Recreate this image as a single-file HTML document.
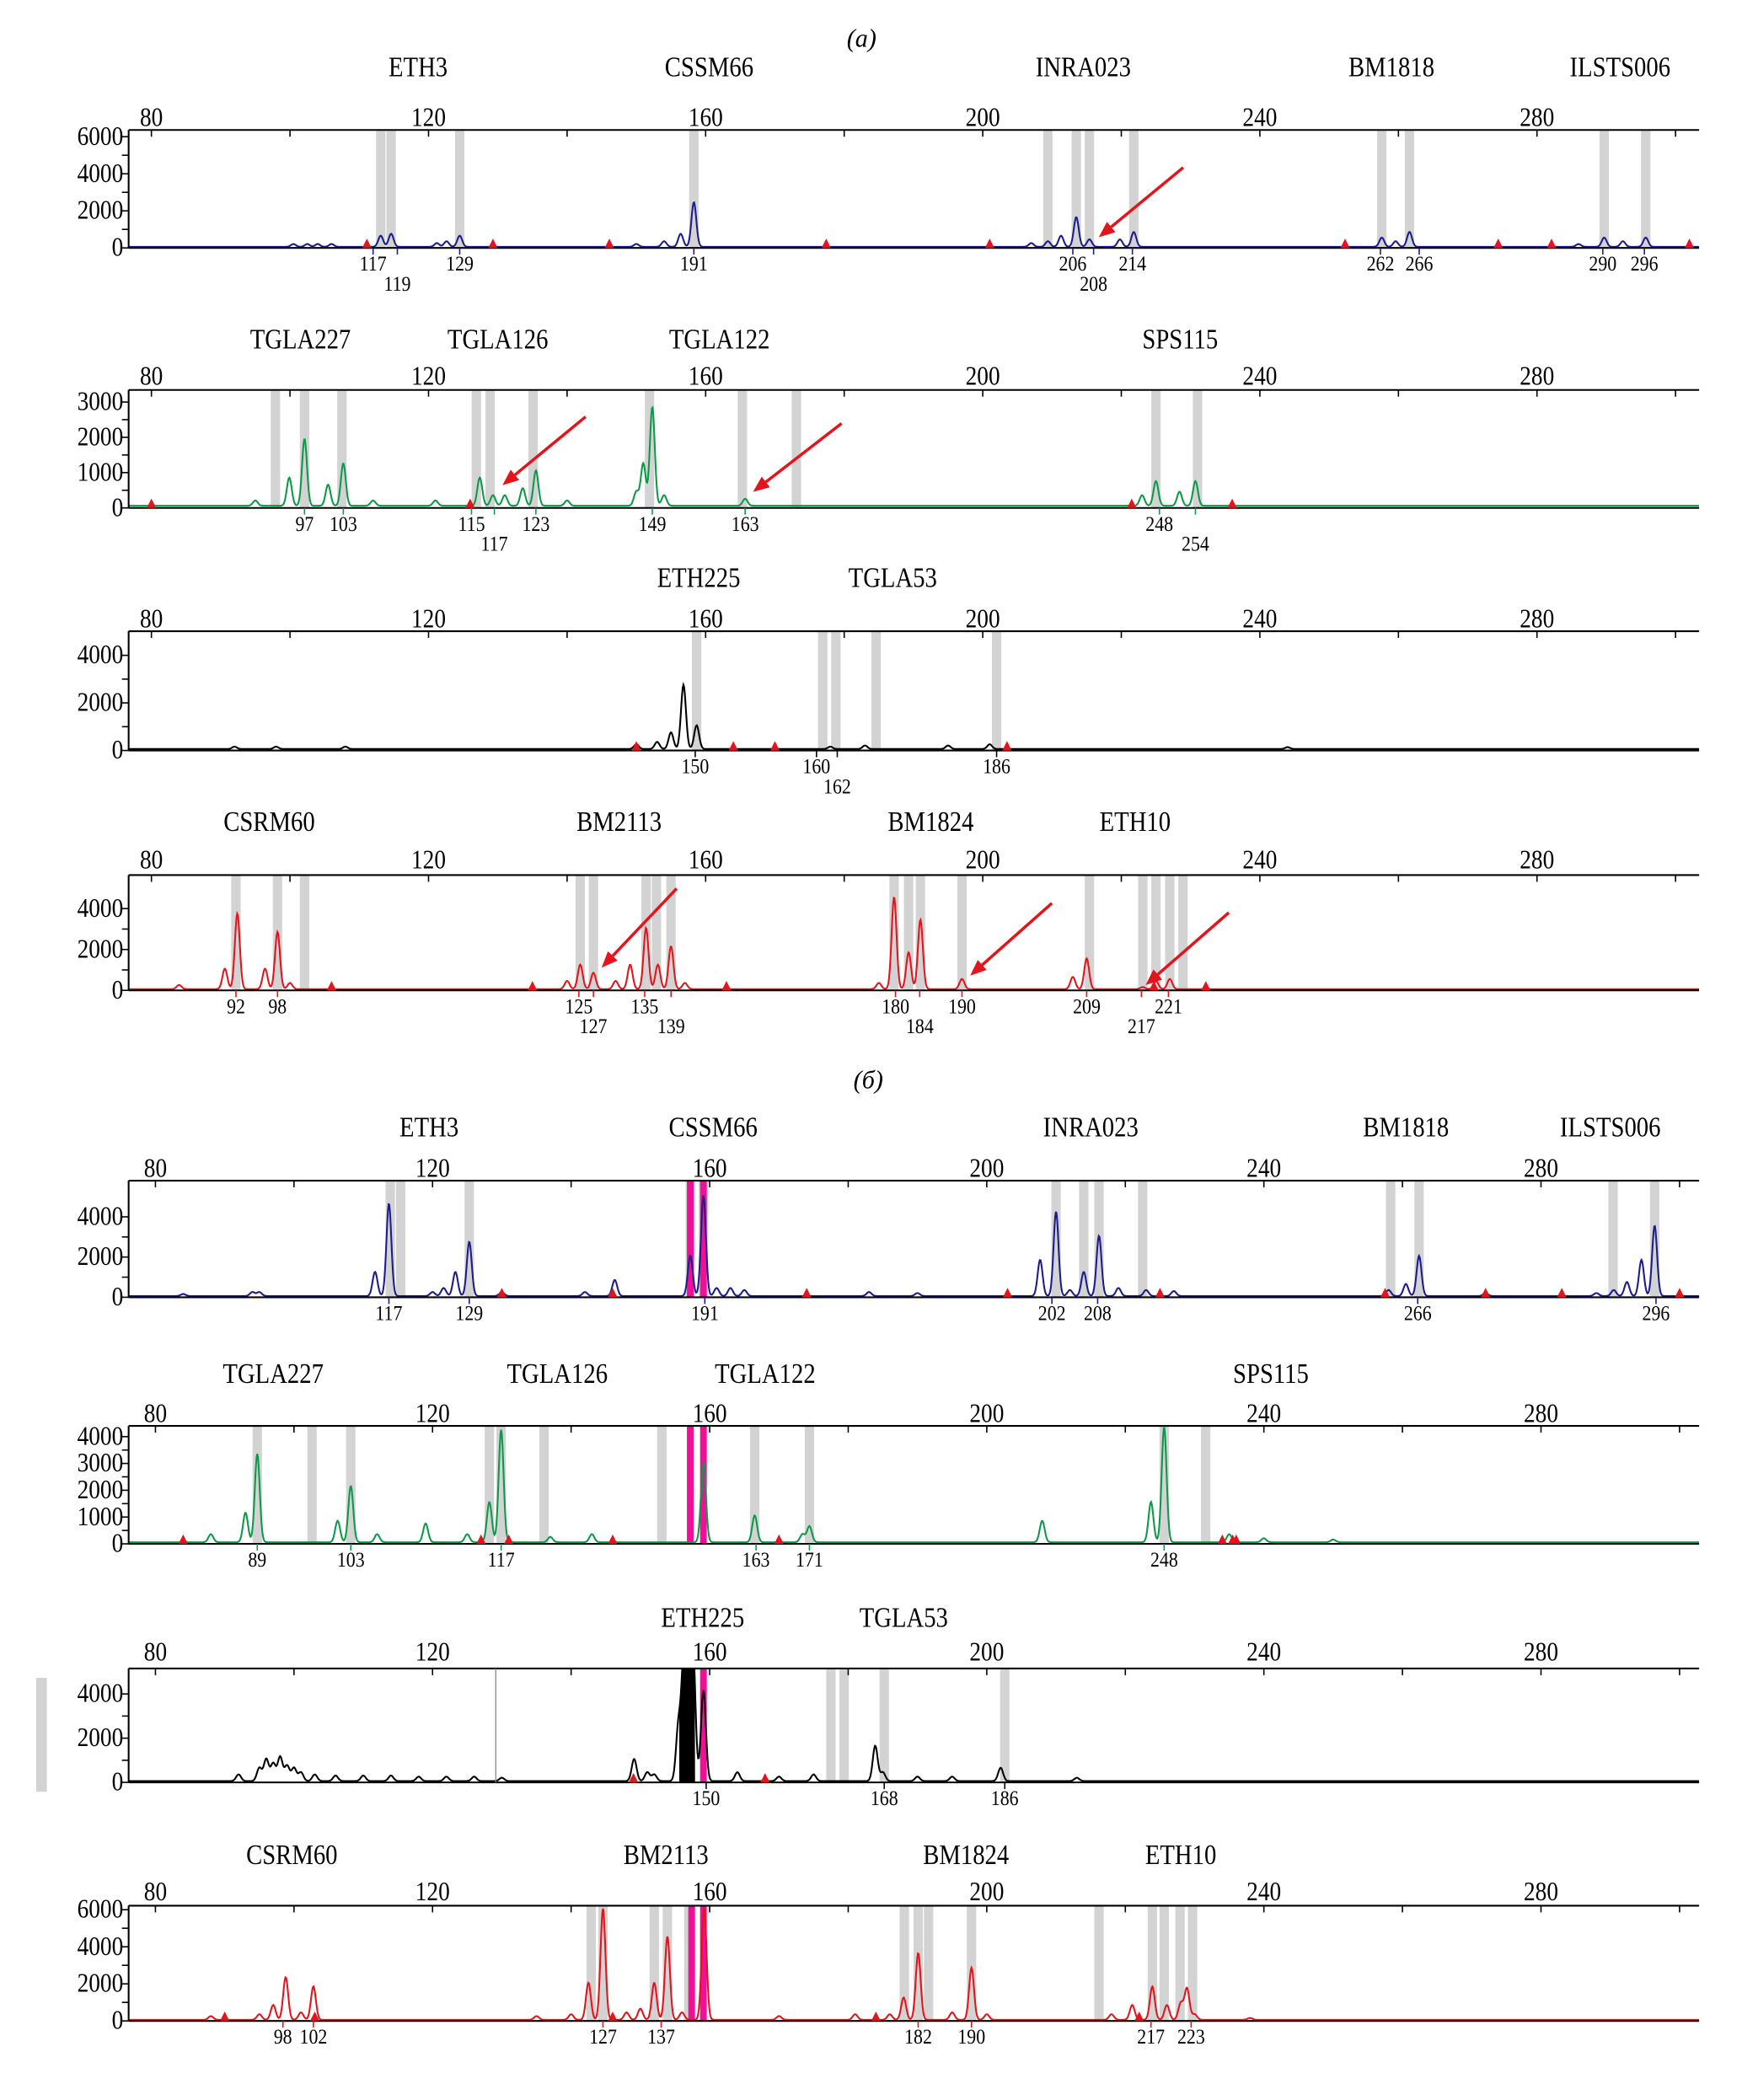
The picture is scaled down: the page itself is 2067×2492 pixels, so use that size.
<!DOCTYPE html>
<html><head><meta charset="utf-8"><style>
html,body{margin:0;padding:0;background:#fff}
svg{display:block}
text{font-family:"Liberation Serif",serif;fill:#000}
</style></head><body>
<svg id="chart" xmlns="http://www.w3.org/2000/svg" width="2067" height="2492" viewBox="0 0 1300 1567" preserveAspectRatio="none">
<text x="643" y="35" font-size="19" font-style="italic" text-anchor="middle">(a)</text>
<text x="648" y="812" font-size="19" font-style="italic" text-anchor="middle">(б)</text>
<rect x="27" y="1252" width="8" height="85" fill="#d3d3d3"/>
</svg>
<script>
// ---- data (bp positions, RFU heights) ----
const a1Peaks=[[100.5,150],[102.5,150],[104,150],[106,150],[113.1,600],[114.6,700],[121.2,200],[122.6,300],[124.5,600],[150,150],[154,300],[156.4,700],[158.3,2400],[207,200],[209.4,300],[211.3,600],[213.5,1600],[215.4,400],[219.8,400],[221.8,800],[257.6,500],[259.6,300],[261.6,800],[286,150],[289.7,500],[292.4,300],[295.7,500]];
const a1Bins=[113.1,114.6,124.5,158.3,209.4,213.5,215.4,221.8,257.6,261.6,289.7,295.7];
const a1Labels=[[112,'117',0],[115.5,'119',1],[124.5,'129',0],[158.3,'191',0],[213,'206',0],[216,'208',1],[221.6,'214',0],[257.4,'262',0],[263,'266',0],[289.5,'290',0],[295.5,'296',0]];
const a1Marks=[111.1,129.3,146.1,177.4,201,252.3,274.4,282.1,302];
const a2Peaks=[[95,150],[99.9,800],[102.1,1900],[105.5,600],[107.7,1200],[112,150],[121,150],[127.4,800],[129.3,300],[131,300],[133.6,500],[135.5,1000],[140,150],[150,400],[151,1200],[152.3,2800],[154,300],[165.7,200],[223,300],[225,700],[228.4,400],[230.7,700]];
const a2Bins=[97.9,102.1,107.5,126.9,128.9,135.1,151.9,165.3,173.1,225,231];
const a2Labels=[[102.1,'97',0],[107.7,'103',0],[126.2,'115',0],[129.5,'117',1],[135.5,'123',0],[152.3,'149',0],[165.7,'163',0],[225.5,'248',0],[230.7,'254',1]];
const a2Marks=[80,126,221.5,236];
const a3Peaks=[[92,100],[98,100],[108,100],[150,200],[153,300],[155,700],[156.8,2700],[158.7,1000],[178,100],[183,150],[195,150],[201,200],[244,80]];
const a3Bins=[158.7,176.9,178.8,184.6,202];
const a3Labels=[[158.5,'150',0],[176,'160',0],[179,'162',1],[202,'186',0]];
const a3Marks=[150,164,170,203.5];
const a4Peaks=[[84,200],[90.6,1000],[92.4,3700],[96.4,1000],[98.2,2800],[100,300],[140,400],[141.9,1200],[143.8,800],[147,400],[149.1,1200],[151.4,3000],[153.1,1200],[155,2100],[157,300],[185,300],[187.2,4500],[189.3,1800],[191,3400],[197,500],[213,600],[215,1500],[223.1,100],[225,400],[227,500]];
const a4Bins=[92.2,98.2,102.1,141.9,143.8,151.4,152.9,155,187.2,189.3,191,197,215.4,223.1,225,227,228.9];
const a4Labels=[[92.2,'92',0],[98.2,'98',0],[141.7,'125',0],[143.8,'127',1],[151.2,'135',0],[155,'139',1],[187.4,'180',0],[190.9,'184',1],[197,'190',0],[215,'209',0],[222.9,'217',1],[226.8,'221',0]];
const a4Marks=[106,135,163,224.7,232.2];
const b1Peaks=[[84,100],[94,200],[95,200],[111.7,1200],[113.7,4600],[120,200],[121.6,400],[123.3,1200],[125.3,2700],[130,200],[142,200],[146.3,800],[157.2,2000],[159.1,5000],[161,400],[163,400],[165,300],[183,200],[190,150],[207.7,1800],[210,4200],[212,300],[214,1200],[216.2,3000],[219,400],[223,300],[227,250],[258,300],[260.5,600],[262.4,2000],[272,150],[288,150],[290.5,300],[292.4,700],[294.5,1800],[296.4,3500]];
const b1Bins=[113.9,115.4,125.3,157.2,159.1,210,214,216.2,222.5,258.3,262.4,290.4,296.4];
const b1Labels=[[113.7,'117',0],[125.3,'129',0],[159.3,'191',0],[209.4,'202',0],[216,'208',0],[262.2,'266',0],[296.6,'296',0]];
const b1Marks=[130,146,174,203,225,257.5,272,283,300];
const b2Peaks=[[88,300],[93,1100],[94.7,3300],[106.3,800],[108.2,2100],[112,300],[119,700],[125,300],[128.2,1500],[129.9,4200],[137,200],[143,300],[159.1,3000],[166.5,1000],[173.4,300],[174.4,600],[208,800],[223.7,1500],[225.6,4300],[235,300],[240,150],[250,100]];
const b2Bins=[94.7,102.6,108.2,128.2,129.9,136.1,153.1,166.5,174.4,225.6,231.6];
const b2Labels=[[94.7,'89',0],[108.2,'103',0],[129.9,'117',0],[166.7,'163',0],[174.4,'171',0],[225.6,'248',0]];
const b2Marks=[84,127,131,146,170,234,235.5,236];
const b3Peaks=[[92,300],[95,600],[96,1000],[97,800],[98,1100],[99,700],[100,600],[101,400],[103,300],[106,250],[110,250],[114,250],[118,200],[122,200],[126,200],[130,150],[149.1,1000],[151,400],[152,300],[155.5,2500],[156.3,5500],[157,5500],[157.6,5500],[159.1,4100],[164,400],[170,200],[175,300],[183.9,1600],[185,400],[190,200],[195,200],[202,600],[213,150]];
const b3Bins=[177.5,179.4,185.2,202.6];
const b3Labels=[[159.5,'150',0],[185.2,'168',0],[202.6,'186',0]];
const b3Marks=[149,168];
const b4Peaks=[[88,200],[95,300],[97,800],[98.8,2300],[101,400],[102.8,1800],[135,200],[140,300],[142.5,2000],[144.6,6000],[148,400],[150,600],[152,2000],[153.9,4500],[156,400],[159.2,6000],[170,200],[181,300],[186,300],[188,1200],[190.1,3600],[195,400],[197.8,2800],[200,300],[218,300],[221,800],[223.9,1800],[226,800],[228,900],[228.9,1700],[230,300],[238,100]];
const b4Bins=[142.9,144.6,152,153.9,157,188.1,190.1,191.6,197.8,216.2,223.9,225.6,227.9,229.7];
const b4Labels=[[98.4,'98',0],[102.8,'102',0],[144.6,'127',0],[153,'137',0],[190.1,'182',0],[197.8,'190',0],[223.7,'217',0],[229.5,'223',0]];
const b4Marks=[90,103,146,184,222];
const axisTicks=[80,120,160,200,240,280];
const aNames1=[[118.5,'ETH3'],[160.5,'CSSM66'],[214.5,'INRA023'],[259,'BM1818'],[292,'ILSTS006']];
const aNames2=[[101.5,'TGLA227'],[130,'TGLA126'],[162,'TGLA122'],[228.5,'SPS115']];
const aNames3=[[159,'ETH225'],[187,'TGLA53']];
const aNames4=[[97,'CSRM60'],[147.5,'BM2113'],[192.5,'BM1824'],[222,'ETH10']];
const bNames1=[[119.5,'ETH3'],[160.5,'CSSM66'],[215,'INRA023'],[260.5,'BM1818'],[290,'ILSTS006']];
const bNames2=[[97,'TGLA227'],[138,'TGLA126'],[168,'TGLA122'],[241,'SPS115']];
const bNames3=[[159,'ETH225'],[188,'TGLA53']];
const bNames4=[[99.7,'CSRM60'],[153.7,'BM2113'],[197,'BM1824'],[228,'ETH10']];

const NS='http://www.w3.org/2000/svg';
const svg=document.getElementById('chart');
const X0=96,X1=1268;
function xs(v,sh){return 113+(v-80)*5.17+(sh||0);}
function mk(tag,attrs,parent){const e=document.createElementNS(NS,tag);for(const k in attrs)e.setAttribute(k,attrs[k]);(parent||svg).appendChild(e);return e;}
function txt(x,y,s,size,anchor,parent){const e=mk('text',{x:0,y:0,'font-size':size,'text-anchor':anchor,transform:`translate(${x.toFixed(1)},${y}) scale(0.86,1)`},parent);e.textContent=s;return e;}

const panels=[
 {id:'a1',top:97,base:185,ymax:6000,yAt:102,ticks:[0,2000,4000,6000],minor:1000,color:'#1c1c8c',peaks:a1Peaks,bins:a1Bins,labels:a1Labels,marks:a1Marks,names:aNames1,nameY:57,tickY:94,sh:0,pink:[]},
 {id:'a2',top:291,base:379,ymax:3000,yAt:300,ticks:[0,1000,2000,3000],minor:500,color:'#0c9a48',peaks:a2Peaks,bins:a2Bins,labels:a2Labels,marks:a2Marks,names:aNames2,nameY:260,tickY:287,sh:0,pink:[]},
 {id:'a3',top:471,base:560,ymax:4000,yAt:489,ticks:[0,2000,4000],minor:1000,color:'#000',peaks:a3Peaks,bins:a3Bins,labels:a3Labels,marks:a3Marks,names:aNames3,nameY:438,tickY:468,sh:0,pink:[]},
 {id:'a4',top:653,base:739,ymax:4000,yAt:678,ticks:[0,2000,4000],minor:1000,color:'#e3141c',peaks:a4Peaks,bins:a4Bins,labels:a4Labels,marks:a4Marks,names:aNames4,nameY:620,tickY:648,sh:0,pink:[]},
 {id:'b1',top:881,base:968,ymax:4000,yAt:908,ticks:[0,2000,4000],minor:1000,color:'#1c1c8c',peaks:b1Peaks,bins:b1Bins,labels:b1Labels,marks:b1Marks,names:bNames1,nameY:848,tickY:878,sh:3,pink:[157.2,159.1]},
 {id:'b2',top:1064,base:1152,ymax:4000,yAt:1072,ticks:[0,1000,2000,3000,4000],minor:500,color:'#0c9a48',peaks:b2Peaks,bins:b2Bins,labels:b2Labels,marks:b2Marks,names:bNames2,nameY:1032,tickY:1061,sh:3,pink:[157.2,159.1]},
 {id:'b3',top:1245,base:1330,ymax:4000,yAt:1264,ticks:[0,2000,4000],minor:1000,color:'#000',peaks:b3Peaks,bins:b3Bins,labels:b3Labels,marks:b3Marks,names:bNames3,nameY:1214,tickY:1239,sh:3,pink:[159.1],fillFrom:155.6,fillTo:157.9},
 {id:'b4',top:1422,base:1508,ymax:6000,yAt:1425,ticks:[0,2000,4000,6000],minor:1000,color:'#e3141c',peaks:b4Peaks,bins:b4Bins,labels:b4Labels,marks:b4Marks,names:bNames4,nameY:1391,tickY:1418,sh:3,pink:[157.4,159.1]}
];

panels.forEach(p=>{
 const g=mk('g',{});
 
 
 const ys=v=>p.base-v*(p.base-p.yAt)/p.ymax;
 const cid='clip-'+p.id;
 const cp=mk('clipPath',{id:cid},g);mk('rect',{x:X0,y:p.top,width:X1-X0,height:p.base-p.top+2},cp);
 p.bins.forEach(b=>{const r=mk('rect',{x:xs(b,p.sh)-3.5,y:p.top,width:7,height:p.base-p.top,fill:'#d3d3d3'},g);
  
  });
 p.pink.forEach(b=>{const r=mk('rect',{x:xs(b,p.sh)-2.5,y:p.top,width:5,height:p.base-p.top,fill:'#ee1197'},g);
  
  });
 let d='',fd='';
 const hAt=v=>{let h=60;p.peaks.forEach(([c,a])=>{const z=(v-c)/0.5;h+=a*Math.exp(-z*z);});return h;};
 for(let px=X0;px<=X1;px+=0.5){
  const v=80+(px-p.sh-113)/5.17;const h=hAt(v);
  d+=(d?'L':'M')+px.toFixed(1)+','+ys(h).toFixed(1);
 }
 if(p.fillFrom){
  const xa=xs(p.fillFrom,p.sh),xb=xs(p.fillTo,p.sh);
  fd='M'+xa.toFixed(1)+','+p.base;
  for(let px=xa;px<=xb;px+=0.5){const v=80+(px-p.sh-113)/5.17;fd+='L'+px.toFixed(1)+','+ys(hAt(v)).toFixed(1);}
  fd+='L'+xb.toFixed(1)+','+p.base+'Z';
  const f=mk('path',{d:fd,fill:'#000','clip-path':'url(#'+cid+')'},g);
  
  
 }
 const tr=mk('path',{d:d,fill:'none',stroke:p.color,'stroke-width':1.3,'clip-path':'url(#'+cid+')'},g);
 
 
 mk('line',{x1:X0,y1:p.top,x2:X1,y2:p.top,stroke:'#000','stroke-width':1.3},g);
 mk('line',{x1:X0,y1:p.base,x2:X1,y2:p.base,stroke:'#000','stroke-width':1.3},g);
 mk('line',{x1:X0,y1:p.top,x2:X0,y2:p.base,stroke:'#000','stroke-width':1.3},g);
 for(let t=80;t<=300;t+=20){mk('line',{x1:xs(t,p.sh),y1:p.top,x2:xs(t,p.sh),y2:p.top+5,stroke:'#000','stroke-width':1},g);}
 axisTicks.forEach(t=>{const e=txt(xs(t,p.sh),p.tickY,String(t),20,'middle',g);
  
  });
 for(let t=0;t<=p.ymax;t+=p.minor){const y=ys(t);if(y<p.top-1)continue;mk('line',{x1:X0-5,y1:y,x2:X0,y2:y,stroke:'#000','stroke-width':1},g);}
 p.ticks.forEach(t=>{const e=txt(X0-4,(ys(t)+6).toFixed(1),String(t),20,'end',g);
  
  });
 p.names.forEach(([v,s])=>{const e=txt(xs(v,p.sh),p.nameY,s,21,'middle',g);
  
  });
 p.labels.forEach(([v,s,row])=>{const x=xs(v,p.sh);
  mk('line',{x1:x,y1:p.base,x2:x,y2:p.base+5,stroke:p.color,'stroke-width':1},g);
  const e=txt(x,p.base+17+row*15,s,16,'middle',g);
  
  });
 p.marks.forEach(v=>{const x=xs(v,p.sh);const m=mk('polygon',{points:`${x-3.5},${p.base} ${x+3.5},${p.base} ${x},${p.base-7}`,fill:'#e3141c'},g);
  
  });
});
const arrows=[[883,125,820,177],[437,311,375,362],[628,316,562,367],[505,663,449,722],[785,674,724,728],[917,681,855,735]];
arrows.forEach(([x1,y1,x2,y2])=>{
 const g=mk('g',{});
 
 
 const a=Math.atan2(y2-y1,x2-x1),L=12,W=5;
 const bx=x2-L*Math.cos(a),by=y2-L*Math.sin(a);
 mk('line',{x1:x1,y1:y1,x2:bx,y2:by,stroke:'#e3141c','stroke-width':2.2},g);
 mk('polygon',{points:`${x2},${y2} ${bx+W*Math.sin(a)},${by-W*Math.cos(a)} ${bx-W*Math.sin(a)},${by+W*Math.cos(a)}`,fill:'#e3141c'},g);
});
mk('line',{x1:370,y1:1245,x2:370,y2:1330,stroke:'#888','stroke-width':0.8});
</script>
</body></html>
